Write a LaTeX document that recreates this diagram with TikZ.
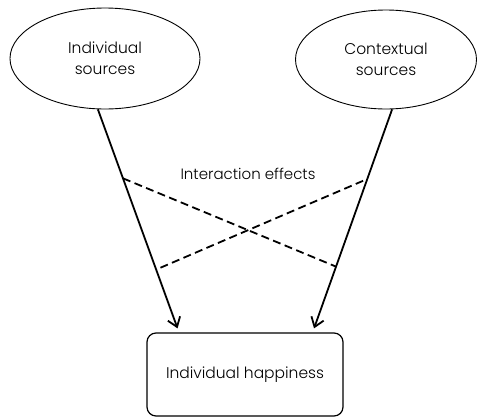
\documentclass[tikz,border=0pt]{standalone}
\usepackage{fontspec}
\setmainfont{Poppins}[UprightFont=* Light]
\usetikzlibrary{shapes.geometric,arrows.meta,calc}
\begin{document}
\begin{tikzpicture}[x=1pt,y=-1pt,
  src/.style={ellipse,draw,line width=0.9pt,font=\fontsize{15.5}{21}\selectfont,align=center,inner sep=0pt},
  outbox/.style={rectangle,rounded corners=9pt,draw,line width=1.2pt,font=\fontsize{15.5}{21}\selectfont,inner sep=0pt},
  effect/.style={line width=1.8pt,-{Straight Barb[length=9pt,width=13pt,line width=1.8pt]}},
  inter/.style={line width=1.8pt,dash pattern=on 8pt off 4.5pt}]
\useasboundingbox (0,0) rectangle (477,418);
\node[src,minimum width=190pt,minimum height=101pt] (is) at (105,58.5) {Individual\\sources};
\node[src,minimum width=181pt,minimum height=99pt] (cs) at (386,59.5) {Contextual\\sources};
\node[outbox,minimum width=196pt,minimum height=83pt] (hb) at (245,374.5) {Individual happiness};
\coordinate (l1) at (is.262);
\coordinate (l2) at ($(hb.north west)!0.158!(hb.north east)+(0,-4)$);
\coordinate (r1) at (cs.277);
\coordinate (r2) at ($(hb.north west)!0.85!(hb.north east)+(0,-4)$);
\draw[effect] (l1) -- (l2);
\draw[effect] (r1) -- (r2);
\coordinate (la) at ($(l1)!0.315!(l2)$);
\coordinate (lb) at ($(l1)!0.723!(l2)+(5,0)$);
\coordinate (ra) at ($(r1)!0.318!(r2)$);
\coordinate (rb) at ($(r1)!0.718!(r2)$);
\draw[inter] (la) -- (rb);
\draw[inter] (lb) -- (ra);
\node[font=\fontsize{15}{18}\selectfont] (ie) at (248,174) {Interaction effects};
\end{tikzpicture}
\end{document}
